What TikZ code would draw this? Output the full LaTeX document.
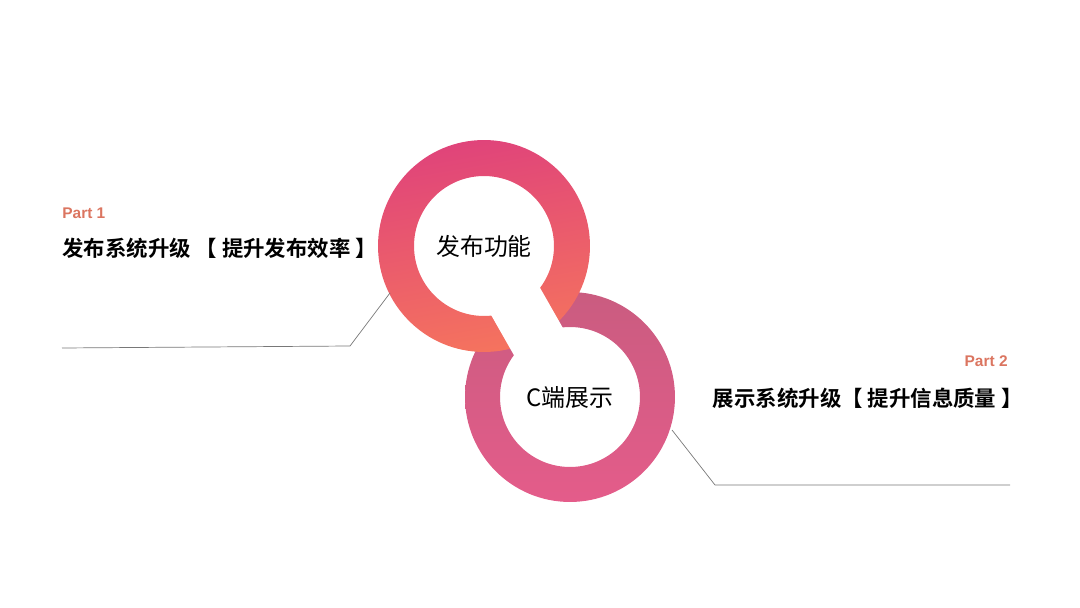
\documentclass[tikz,border=0pt]{standalone}
\usepackage{fontspec}
\usepackage{xcolor}
\usetikzlibrary{positioning}
\setmainfont{Liberation Sans}
\newfontfamily\cjk{Noto Sans CJK SC}[BoldFont={* Bold}]
\definecolor{ringTop}{RGB}{224,68,122}
\definecolor{ringTopLow}{RGB}{245,115,94}
\definecolor{ringLowHi}{RGB}{202,92,128}
\definecolor{ringLow}{RGB}{228,92,138}
\definecolor{partInk}{RGB}{219,117,96}
\definecolor{leadLine}{RGB}{120,120,120}

\begin{document}
\begin{tikzpicture}[
  x=0.02cm,y=-0.02cm,
  ringlabel/.style={font=\cjk\fontsize{13.6}{15}\selectfont,text=black,inner sep=0pt},
  partlabel/.style={font=\bfseries\fontsize{8.8}{10}\selectfont,text=partInk,inner sep=0pt},
  headline/.style={font=\cjk\bfseries\fontsize{12.2}{14}\selectfont,text=black,inner sep=0pt},
  leader/.style={draw=leadLine,line width=0.4pt}
]
\useasboundingbox (0,0) rectangle (1080,608);

\coordinate (pubc) at (484,246);
\coordinate (showc) at (570,397);

% rings
\shade[even odd rule,top color=ringLowHi,bottom color=ringLow]
  (showc) circle[radius=2.1cm] (showc) circle[radius=1.4cm];
\shade[even odd rule,top color=ringTop,bottom color=ringTopLow,shading angle=10]
  (pubc) circle[radius=2.12cm] (pubc) circle[radius=1.4cm];
\draw[white,line width=1.12cm] (pubc) -- (showc);

\node[ringlabel] (pub) at (pubc) {发布功能};
\node[ringlabel] (show) at (showc) {C端展示};

% part 1
\node[partlabel,anchor=west] (part1) at (62,213) {Part 1};
\node[headline,anchor=west] (head1) at (62,248) {发布系统升级 【 提升发布效率 】};
\coordinate (lead1a) at (390,293);
\coordinate (lead1b) at (350,346);
\coordinate (lead1c) at (62,348);
\draw[leader] (lead1a) -- (lead1b) -- (lead1c);

% part 2
\node[partlabel,anchor=east] (part2) at (1008,361) {Part 2};
\node[headline,anchor=east] (head2) at (1023,398) {展示系统升级【 提升信息质量 】};
\coordinate (lead2a) at (672,430);
\coordinate (lead2b) at (715,485);
\coordinate (lead2c) at (1010,485);
\draw[leader] (lead2a) -- (lead2b) -- (lead2c);

\end{tikzpicture}
\end{document}
